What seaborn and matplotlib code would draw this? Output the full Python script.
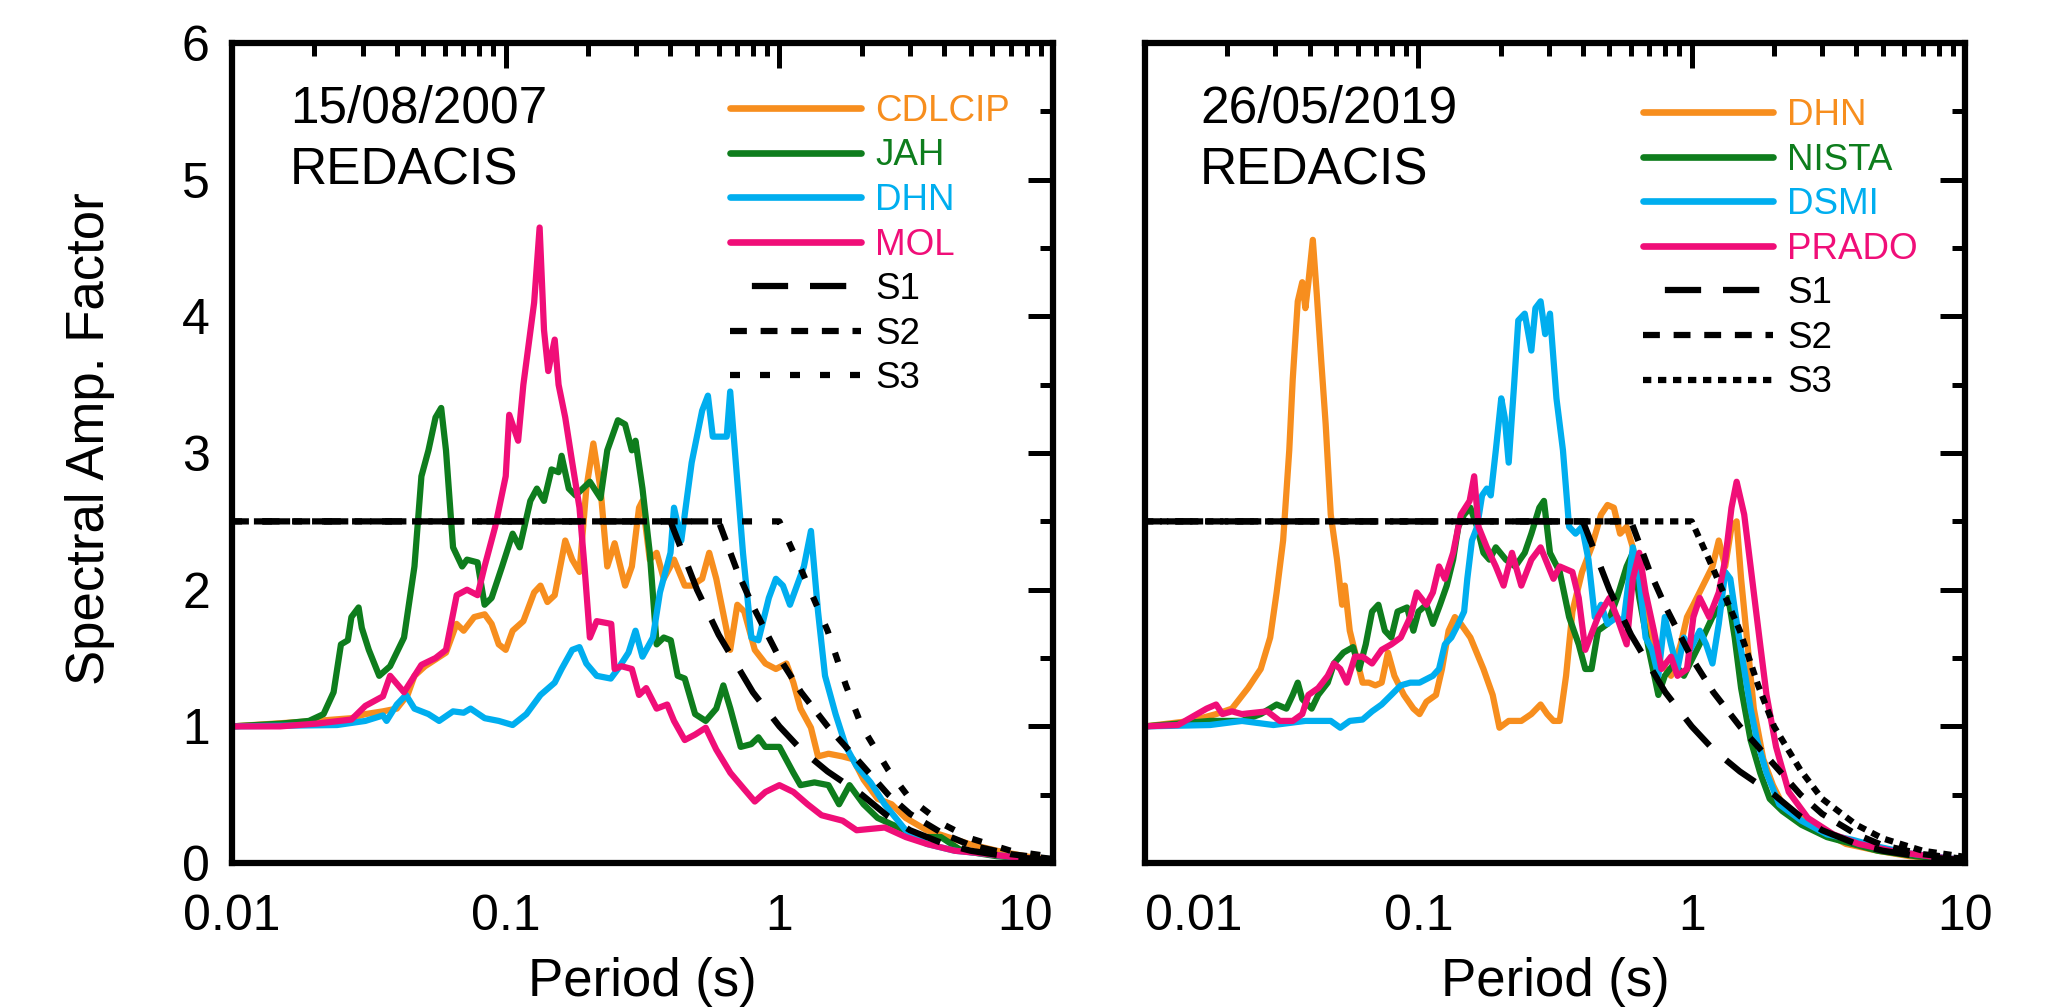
import numpy as np
import pandas as pd
import matplotlib
matplotlib.use('Agg')
import matplotlib.pyplot as plt
from matplotlib.lines import Line2D
from matplotlib.ticker import LogLocator, MultipleLocator, NullFormatter
import seaborn as sns

# ---------------- data: left panel (15/08/2007) ----------------
L_CDLCIP_T = [0.01, 0.0203, 0.0273, 0.0307, 0.0356, 0.0400, 0.0438, 0.0464, 0.0507, 0.0554, 0.0605, 0.0661, 0.0702, 0.0767, 0.0838, 0.0888, 0.0943, 0.100, 0.106, 0.116, 0.127, 0.134, 0.142, 0.151, 0.160, 0.165, 0.175, 0.186, 0.197, 0.209, 0.222, 0.235, 0.250, 0.273, 0.289, 0.307, 0.316, 0.336, 0.356, 0.378, 0.412, 0.451, 0.478, 0.522, 0.554, 0.588, 0.642, 0.661, 0.702, 0.744, 0.813, 0.889, 0.971, 1.061, 1.125, 1.194, 1.304, 1.384, 1.512, 1.701, 1.858, 2.031, 2.286, 2.572, 2.894, 3.455, 4.125, 4.924, 6.236, 7.898, 10.0]
L_CDLCIP_V = [1.0, 1.04, 1.06, 1.09, 1.11, 1.13, 1.23, 1.37, 1.44, 1.49, 1.54, 1.75, 1.70, 1.80, 1.82, 1.75, 1.60, 1.56, 1.70, 1.77, 1.98, 2.03, 1.91, 1.96, 2.22, 2.36, 2.22, 2.13, 2.74, 3.07, 2.74, 2.17, 2.34, 2.03, 2.17, 2.60, 2.65, 2.22, 2.27, 2.08, 2.22, 2.03, 2.03, 2.08, 2.27, 2.08, 1.70, 1.56, 1.89, 1.84, 1.56, 1.46, 1.42, 1.46, 1.32, 1.13, 0.99, 0.78, 0.80, 0.78, 0.76, 0.61, 0.47, 0.43, 0.33, 0.24, 0.19, 0.14, 0.09, 0.05, 0.02]

L_JAH_T = [0.01, 0.0151, 0.0191, 0.0216, 0.0235, 0.0250, 0.0265, 0.0273, 0.0290, 0.0298, 0.0316, 0.0345, 0.0378, 0.0425, 0.0464, 0.0492, 0.0522, 0.0554, 0.0581, 0.0605, 0.0642, 0.0693, 0.0722, 0.0789, 0.0837, 0.0888, 0.097, 0.106, 0.1125, 0.123, 0.130, 0.138, 0.147, 0.156, 0.160, 0.170, 0.180, 0.203, 0.222, 0.235, 0.257, 0.273, 0.289, 0.298, 0.316, 0.336, 0.356, 0.378, 0.401, 0.425, 0.451, 0.492, 0.538, 0.588, 0.624, 0.662, 0.722, 0.789, 0.838, 0.888, 1.0, 1.125, 1.194, 1.343, 1.511, 1.652, 1.804, 2.03, 2.285, 2.73, 3.26, 3.89, 4.64, 6.24, 10.0]
L_JAH_V = [1.0, 1.02, 1.04, 1.09, 1.25, 1.60, 1.63, 1.80, 1.87, 1.72, 1.56, 1.37, 1.44, 1.65, 2.17, 2.83, 3.02, 3.26, 3.33, 3.02, 2.31, 2.17, 2.22, 2.20, 1.89, 1.94, 2.17, 2.41, 2.31, 2.65, 2.74, 2.65, 2.88, 2.86, 2.98, 2.74, 2.69, 2.79, 2.67, 3.02, 3.24, 3.21, 3.02, 3.09, 2.74, 2.27, 1.60, 1.65, 1.63, 1.37, 1.35, 1.09, 1.04, 1.13, 1.30, 1.13, 0.85, 0.87, 0.92, 0.85, 0.85, 0.66, 0.57, 0.59, 0.57, 0.43, 0.57, 0.43, 0.33, 0.26, 0.19, 0.19, 0.09, 0.05, 0.02]

L_DHN_T = [0.01, 0.0242, 0.0307, 0.0356, 0.0367, 0.0400, 0.0432, 0.0464, 0.0522, 0.0571, 0.0642, 0.0702, 0.0744, 0.0838, 0.0943, 0.106, 0.119, 0.134, 0.151, 0.160, 0.175, 0.186, 0.197, 0.215, 0.242, 0.257, 0.281, 0.298, 0.316, 0.345, 0.366, 0.400, 0.412, 0.438, 0.478, 0.522, 0.548, 0.571, 0.605, 0.642, 0.661, 0.693, 0.736, 0.790, 0.838, 0.915, 0.971, 1.030, 1.093, 1.159, 1.229, 1.304, 1.384, 1.468, 1.604, 1.752, 1.914, 2.154, 2.424, 2.894, 3.455, 4.375, 5.541, 7.443, 10.0]
L_DHN_V = [1.0, 1.01, 1.04, 1.08, 1.04, 1.16, 1.23, 1.13, 1.09, 1.04, 1.11, 1.10, 1.13, 1.06, 1.04, 1.01, 1.09, 1.23, 1.32, 1.42, 1.56, 1.58, 1.46, 1.37, 1.35, 1.42, 1.54, 1.70, 1.51, 1.65, 1.98, 2.27, 2.60, 2.36, 2.93, 3.31, 3.42, 3.12, 3.12, 3.12, 3.45, 2.93, 2.27, 1.65, 1.63, 1.94, 2.08, 2.03, 1.89, 2.03, 2.17, 2.43, 1.84, 1.37, 1.09, 0.85, 0.71, 0.59, 0.43, 0.24, 0.14, 0.09, 0.07, 0.04, 0.02]

L_MOL_T = [0.01, 0.015, 0.0203, 0.0273, 0.0307, 0.0356, 0.0378, 0.0425, 0.0492, 0.0554, 0.0605, 0.0662, 0.0722, 0.0789, 0.0837, 0.0915, 0.100, 0.103, 0.111, 0.116, 0.127, 0.133, 0.138, 0.143, 0.151, 0.156, 0.165, 0.175, 0.186, 0.194, 0.203, 0.215, 0.243, 0.250, 0.265, 0.289, 0.307, 0.326, 0.356, 0.389, 0.412, 0.451, 0.492, 0.538, 0.588, 0.662, 0.744, 0.813, 0.889, 1.0, 1.125, 1.267, 1.425, 1.702, 1.915, 2.426, 2.897, 3.454, 4.375, 5.541, 7.45, 10.0]
L_MOL_V = [1.0, 1.0, 1.02, 1.05, 1.15, 1.22, 1.37, 1.25, 1.45, 1.50, 1.56, 1.96, 2.00, 1.96, 2.17, 2.46, 2.83, 3.28, 3.09, 3.50, 4.10, 4.65, 3.90, 3.60, 3.83, 3.50, 3.26, 2.93, 2.60, 2.17, 1.65, 1.77, 1.75, 1.42, 1.44, 1.42, 1.23, 1.28, 1.13, 1.16, 1.04, 0.90, 0.94, 0.99, 0.83, 0.66, 0.54, 0.45, 0.52, 0.57, 0.52, 0.43, 0.35, 0.31, 0.24, 0.26, 0.19, 0.14, 0.09, 0.07, 0.04, 0.02]

# ---------------- data: right panel (26/05/2019) ----------------
R_DHN_T = [0.01, 0.0147, 0.0182, 0.0208, 0.0238, 0.0265, 0.0287, 0.0303, 0.0320, 0.0337, 0.0347, 0.0362, 0.0376, 0.0386, 0.0396, 0.0411, 0.0425, 0.0441, 0.0458, 0.0478, 0.0504, 0.0526, 0.0538, 0.0561, 0.0592, 0.0625, 0.0659, 0.0696, 0.0734, 0.0774, 0.0817, 0.0885, 0.0959, 0.101, 0.107, 0.116, 0.122, 0.129, 0.136, 0.143, 0.155, 0.173, 0.187, 0.198, 0.214, 0.238, 0.259, 0.280, 0.296, 0.312, 0.329, 0.347, 0.366, 0.397, 0.430, 0.466, 0.492, 0.519, 0.547, 0.578, 0.609, 0.643, 0.678, 0.716, 0.775, 0.840, 0.911, 0.961, 1.014, 1.099, 1.191, 1.256, 1.326, 1.398, 1.460, 1.516, 1.600, 1.687, 1.828, 1.982, 2.147, 2.521, 2.961, 3.668, 4.796, 6.27, 10.0]
R_DHN_V = [1.0, 1.04, 1.09, 1.13, 1.28, 1.42, 1.65, 1.98, 2.36, 3.02, 3.54, 4.11, 4.25, 4.06, 4.25, 4.56, 4.16, 3.68, 3.21, 2.55, 2.22, 1.89, 2.03, 1.70, 1.51, 1.32, 1.32, 1.30, 1.32, 1.54, 1.37, 1.23, 1.13, 1.09, 1.18, 1.23, 1.42, 1.70, 1.80, 1.75, 1.65, 1.42, 1.23, 0.99, 1.04, 1.04, 1.09, 1.16, 1.09, 1.04, 1.04, 1.37, 1.84, 2.13, 2.31, 2.55, 2.62, 2.60, 2.41, 2.46, 2.31, 2.03, 1.80, 1.60, 1.46, 1.37, 1.60, 1.80, 1.89, 2.03, 2.17, 2.36, 2.17, 2.46, 2.50, 2.08, 1.60, 1.13, 0.76, 0.57, 0.43, 0.33, 0.24, 0.14, 0.09, 0.05, 0.02]

R_NISTA_T = [0.01, 0.0173, 0.0226, 0.0265, 0.0303, 0.0329, 0.0347, 0.0362, 0.0376, 0.0407, 0.0430, 0.0466, 0.0491, 0.0532, 0.0577, 0.0608, 0.0642, 0.0677, 0.0714, 0.0754, 0.0796, 0.0839, 0.0909, 0.0959, 0.1001, 0.107, 0.113, 0.120, 0.127, 0.134, 0.140, 0.147, 0.155, 0.164, 0.173, 0.182, 0.192, 0.209, 0.226, 0.245, 0.259, 0.277, 0.288, 0.303, 0.329, 0.356, 0.386, 0.408, 0.430, 0.454, 0.492, 0.533, 0.578, 0.609, 0.643, 0.697, 0.755, 0.797, 0.863, 0.936, 1.014, 1.099, 1.191, 1.291, 1.362, 1.436, 1.516, 1.642, 1.780, 1.929, 2.147, 2.521, 3.124, 3.870, 4.796, 6.614, 10.0]
R_NISTA_V = [1.0, 1.04, 1.04, 1.09, 1.16, 1.13, 1.23, 1.32, 1.20, 1.13, 1.23, 1.32, 1.46, 1.54, 1.58, 1.42, 1.60, 1.84, 1.89, 1.70, 1.65, 1.84, 1.87, 1.70, 1.84, 1.89, 1.75, 1.89, 2.03, 2.22, 2.46, 2.55, 2.60, 2.46, 2.27, 2.22, 2.31, 2.22, 2.17, 2.27, 2.41, 2.60, 2.65, 2.27, 2.13, 1.80, 1.60, 1.42, 1.42, 1.70, 1.75, 1.94, 2.17, 2.27, 1.94, 1.56, 1.23, 1.37, 1.46, 1.37, 1.51, 1.65, 1.80, 1.89, 1.94, 1.65, 1.28, 0.90, 0.66, 0.47, 0.38, 0.28, 0.19, 0.14, 0.09, 0.05, 0.02]

R_DSMI_T = [0.01, 0.0173, 0.0226, 0.0295, 0.0386, 0.0478, 0.0518, 0.0561, 0.0625, 0.0677, 0.0734, 0.0796, 0.0862, 0.0934, 0.101, 0.113, 0.119, 0.125, 0.132, 0.140, 0.147, 0.151, 0.157, 0.164, 0.171, 0.178, 0.184, 0.192, 0.201, 0.207, 0.214, 0.224, 0.232, 0.245, 0.259, 0.268, 0.280, 0.291, 0.303, 0.320, 0.338, 0.356, 0.376, 0.397, 0.419, 0.442, 0.466, 0.492, 0.533, 0.562, 0.609, 0.643, 0.678, 0.716, 0.755, 0.797, 0.840, 0.887, 0.936, 0.987, 1.070, 1.129, 1.191, 1.256, 1.326, 1.384, 1.476, 1.556, 1.642, 1.733, 1.878, 2.090, 2.521, 3.124, 3.870, 4.796, 6.27, 10.0]
R_DSMI_V = [1.0, 1.01, 1.04, 1.01, 1.04, 1.04, 0.99, 1.04, 1.05, 1.11, 1.16, 1.23, 1.30, 1.32, 1.32, 1.37, 1.42, 1.60, 1.65, 1.75, 1.84, 2.08, 2.36, 2.46, 2.69, 2.74, 2.69, 3.02, 3.40, 3.26, 2.93, 3.50, 3.97, 4.02, 3.75, 4.06, 4.11, 3.87, 4.02, 3.40, 3.02, 2.46, 2.41, 2.46, 2.22, 1.80, 1.89, 1.75, 1.80, 1.75, 2.31, 2.08, 1.65, 1.56, 1.37, 1.80, 1.60, 1.42, 1.65, 1.56, 1.70, 1.60, 1.46, 1.75, 2.13, 2.08, 1.70, 1.42, 1.13, 0.90, 0.66, 0.43, 0.31, 0.21, 0.17, 0.12, 0.07, 0.02]

R_PRADO_T = [0.01, 0.0132, 0.0155, 0.0168, 0.0182, 0.0192, 0.0208, 0.0226, 0.0251, 0.0280, 0.0311, 0.0347, 0.0376, 0.0396, 0.0430, 0.0466, 0.0491, 0.0518, 0.0547, 0.0586, 0.0625, 0.0677, 0.0734, 0.0796, 0.0862, 0.0934, 0.0986, 0.107, 0.113, 0.119, 0.125, 0.134, 0.143, 0.154, 0.160, 0.166, 0.178, 0.192, 0.205, 0.220, 0.238, 0.259, 0.280, 0.312, 0.329, 0.366, 0.386, 0.408, 0.454, 0.500, 0.533, 0.578, 0.609, 0.643, 0.678, 0.727, 0.775, 0.840, 0.887, 0.961, 1.014, 1.070, 1.159, 1.256, 1.326, 1.398, 1.460, 1.556, 1.642, 1.780, 1.878, 2.035, 2.265, 2.660, 3.296, 4.083, 5.340, 7.362, 10.0]
R_PRADO_V = [1.0, 1.01, 1.09, 1.13, 1.16, 1.09, 1.11, 1.09, 1.10, 1.11, 1.04, 1.04, 1.09, 1.23, 1.28, 1.37, 1.46, 1.42, 1.32, 1.51, 1.51, 1.46, 1.56, 1.60, 1.65, 1.80, 1.98, 1.89, 1.98, 2.17, 2.08, 2.27, 2.55, 2.65, 2.83, 2.46, 2.31, 2.17, 2.03, 2.27, 2.03, 2.22, 2.31, 2.08, 2.17, 2.13, 1.94, 1.56, 1.80, 1.94, 1.80, 1.60, 2.08, 2.27, 1.98, 1.70, 1.42, 1.51, 1.37, 1.42, 1.80, 1.94, 1.80, 1.98, 2.22, 2.60, 2.79, 2.55, 2.17, 1.60, 1.23, 0.85, 0.52, 0.33, 0.21, 0.14, 0.09, 0.05, 0.02]

# ---------------- design spectra (both panels) ----------------
S1_T = [0.01, 0.4, 0.5, 0.6, 0.8, 1.0, 1.2, 1.5, 2.0, 2.5, 3.0, 4.0, 5.0, 7.0, 10.0]
S1_V = [2.5, 2.5, 2.0, 1.67, 1.25, 1.0, 0.83, 0.67, 0.5, 0.34, 0.24, 0.14, 0.09, 0.045, 0.02]
S2_T = [0.01, 0.6, 0.7, 0.8, 1.0, 1.2, 1.5, 2.0, 2.5, 3.0, 4.0, 5.0, 7.0, 10.0]
S2_V = [2.5, 2.5, 2.14, 1.88, 1.5, 1.25, 1.0, 0.72, 0.5, 0.36, 0.21, 0.13, 0.065, 0.03]
S3_T = [0.01, 1.0, 1.2, 1.5, 1.75, 2.0, 2.5, 3.0, 4.0, 5.0, 7.0, 10.0]
S3_V = [2.5, 2.5, 2.15, 1.7, 1.3, 1.0, 0.68, 0.47, 0.28, 0.18, 0.09, 0.045]

XTICKS = [0.01, 0.1, 1, 10]
XTICKLABELS = ['0.01', '0.1', '1', '10']
YTICKS = [0, 1, 2, 3, 4, 5, 6]

ORANGE = '#F78E1E'
GREEN = '#0E7D1D'
BLUE = '#00AEEF'
PINK = '#F00E78'

left_series = [('CDLCIP', L_CDLCIP_T, L_CDLCIP_V, ORANGE),
               ('JAH', L_JAH_T, L_JAH_V, GREEN),
               ('DHN', L_DHN_T, L_DHN_V, BLUE),
               ('MOL', L_MOL_T, L_MOL_V, PINK)]
right_series = [('DHN', R_DHN_T, R_DHN_V, ORANGE),
                ('NISTA', R_NISTA_T, R_NISTA_V, GREEN),
                ('DSMI', R_DSMI_T, R_DSMI_V, BLUE),
                ('PRADO', R_PRADO_T, R_PRADO_V, PINK)]

sns.set_style('white')
plt.rcParams['font.family'] = ['Liberation Sans', 'DejaVu Sans']
plt.rcParams['text.color'] = 'black'
plt.rcParams['axes.labelcolor'] = 'black'
plt.rcParams['xtick.color'] = 'black'
plt.rcParams['ytick.color'] = 'black'

fig = plt.figure(figsize=(20.48, 10.08), dpi=100)
ax1 = fig.add_axes([0.1133, 0.1438, 0.4009, 0.8135])
ax2 = fig.add_axes([0.5591, 0.1438, 0.4004, 0.8135])

DATA_LW = 4.5
S_LW = 4.5
S1_LS = (5.8, (5.8, 3.5))
S2_LS = (0, (2.7, 2.2))
S3_LS_L = (0, (1.6, 3.2))
S3_LS_R = (0, (1.33, 1.07))


def draw(ax, series, date, s3ls, anchor):
    for name, T, V, c in series:
        sns.lineplot(x=T, y=V, ax=ax, color=c, linewidth=DATA_LW, sort=False,
                     estimator=None, legend=False)
    for T, V, ls in [(S1_T, S1_V, S1_LS), (S2_T, S2_V, S2_LS), (S3_T, S3_V, s3ls)]:
        sns.lineplot(x=T, y=V, ax=ax, color='black', linewidth=S_LW, linestyle=ls,
                     sort=False, estimator=None, legend=False)
    ax.set_xscale('log')
    ax.set_xlim(0.01, 10)
    ax.set_ylim(0, 6)
    ax.set_xticks(XTICKS)
    ax.set_xticklabels(XTICKLABELS)
    ax.xaxis.set_minor_locator(LogLocator(base=10, subs=np.arange(2, 10), numticks=20))
    ax.xaxis.set_minor_formatter(NullFormatter())
    ax.set_yticks(YTICKS)
    ax.yaxis.set_minor_locator(MultipleLocator(0.5))
    ax.tick_params(which='both', direction='in', top=True, right=True, width=3.6,
                   labelsize=36, color='black', labelcolor='black')
    ax.tick_params(which='major', length=18, pad=16)
    ax.tick_params(which='minor', length=9.5)
    ax.tick_params(axis='x', which='major', pad=22)
    for sp in ax.spines.values():
        sp.set_linewidth(4.5)
        sp.set_color('black')
        sp.set_visible(True)
    ax.grid(False)
    ax.set_xlabel('Period (s)', fontsize=38)
    ax.xaxis.set_label_coords(0.5, -0.114)
    ax.text(anchor[2], 0.9037, date, transform=ax.transAxes, fontsize=37,
            va='baseline', ha='left', color='black')
    ax.text(anchor[2], 0.827, 'REDACIS', transform=ax.transAxes, fontsize=37,
            va='baseline', ha='left', color='black')
    handles = [Line2D([], [], color=c, lw=4.8, label=name) for name, _, _, c in series]
    handles += [Line2D([], [], color='black', lw=S_LW, linestyle=S1_LS, label='S1'),
                Line2D([], [], color='black', lw=S_LW, linestyle=S2_LS, label='S2'),
                Line2D([], [], color='black', lw=S_LW, linestyle=s3ls, label='S3')]
    ax.legend(handles=handles, loc='upper left',
              bbox_to_anchor=(anchor[0], anchor[1]),
              frameon=False, fontsize=26.5, handlelength=3.55, handletextpad=0.38,
              labelspacing=0.26, borderpad=0, borderaxespad=0, labelcolor='linecolor')


draw(ax1, left_series, '15/08/2007', S3_LS_L, (0.607, 0.938, 0.0706))
draw(ax2, right_series, '26/05/2019', S3_LS_R, (0.607, 0.933, 0.067))

ax1.set_ylabel('Spectral Amp. Factor', fontsize=38)
ax1.yaxis.set_label_coords(-0.1425, 0.518)
ax2.set_ylabel('')
ax2.tick_params(axis='y', which='both', labelleft=False)

# tick label alignment as in the reference
ax1.get_xticklabels()[-1].set_horizontalalignment('right')
ax2.get_xticklabels()[0].set_horizontalalignment('left')

fig.savefig('out.png', dpi=100)
